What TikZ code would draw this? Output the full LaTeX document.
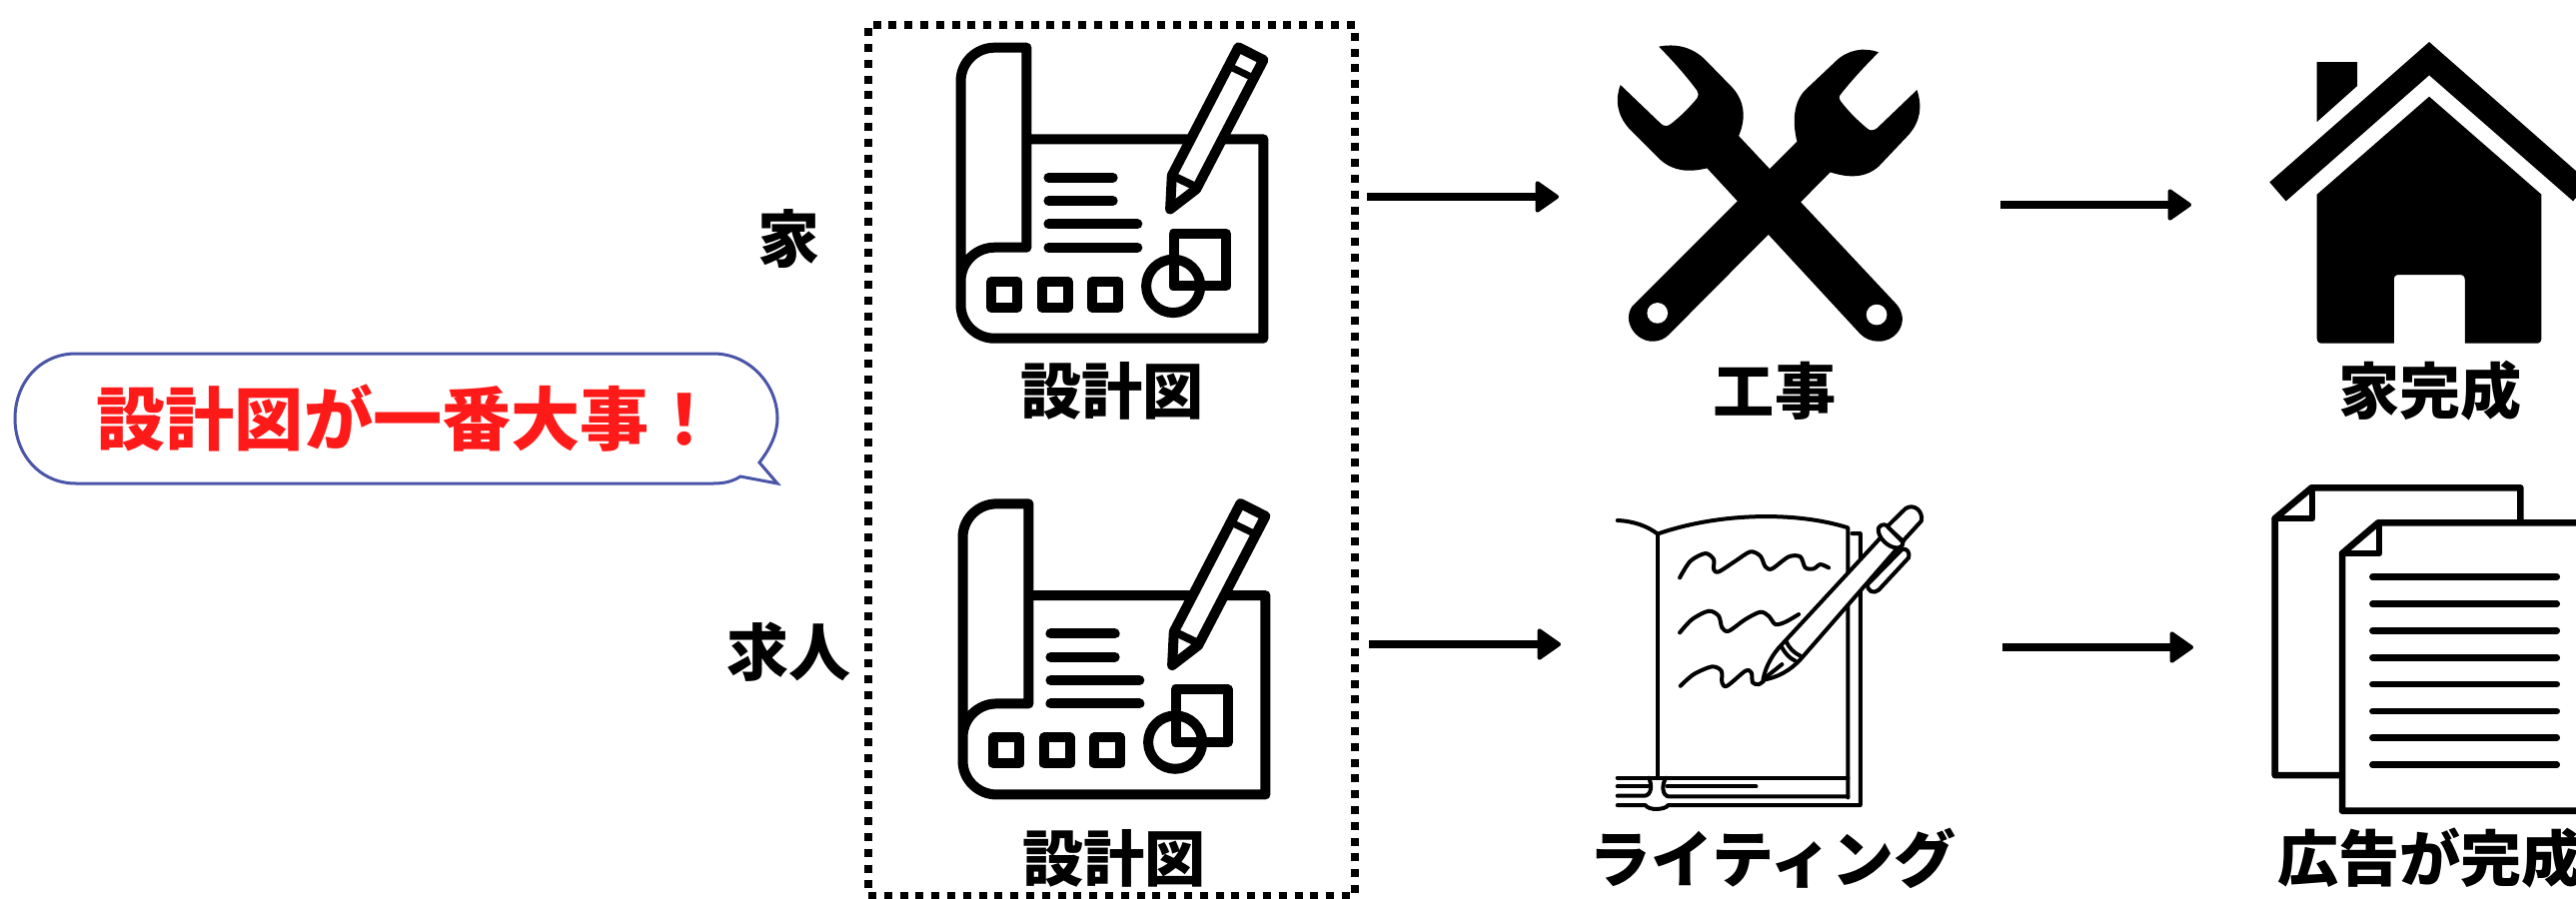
\documentclass[tikz,border=0pt]{standalone}
\usepackage{fontspec}
\newfontfamily\cjk{Noto Sans CJK JP}
\usetikzlibrary{arrows.meta}
\definecolor{bubbleblue}{HTML}{4A55A8}
\definecolor{bubblered}{HTML}{FF1A1A}
\tikzset{
  lab/.style={font=\cjk\bfseries\fontsize{30.6}{30.6}\selectfont,inner sep=0pt,text=black},
  side/.style={font=\cjk\bfseries\fontsize{31}{31}\selectfont,inner sep=0pt,text=black},
  flow/.style={line width=4pt,-{Triangle[length=12.5pt,width=17pt,line width=2pt,round,fill=black]}},
  ic/.style={line width=5pt,line join=round,line cap=round},
  thinic/.style={line width=2pt,line join=round,line cap=round},
  docic/.style={line width=3.3pt,line join=round,line cap=round},
}
\newcommand{\blueprinticon}[2]{%
\begin{scope}[shift={(#1,#2)},x=0.169pt,y=-0.1667pt,ic]
  \draw (525,418) -- (1226,418) -- (1226,1016) -- (430,1016)
    .. controls (375,1016) and (330,971) .. (330,916) -- (330,243)
    .. controls (330,188) and (375,143) .. (430,143) -- (525,143) -- (525,743) -- (430,743)
    .. controls (375,743) and (330,788) .. (330,843);
  \draw[fill=white] (950,628) -- (955,527) -- (1152,142) -- (1226,180) -- (1027,568) -- cycle;
  \draw[line width=4pt,line cap=butt] (962,530) -- (1030,563);
  \draw[line width=3.5pt,line cap=butt] (1133,203) -- (1200,236);
  \foreach \y/\e in {533/780,603/780,673/853,743/853}{\draw (590,\y) -- (\e,\y);}
  \foreach \x in {421,571,720}{\draw (\x,845) rectangle ++(76,78);}
  \draw (960,701) rectangle (1115,859);
  \draw (959,859) ellipse[x radius=80,y radius=80];
\end{scope}}
\begin{document}
\begin{tikzpicture}[x=0.5pt,y=-0.5pt]
\useasboundingbox (0,0) rectangle (2578,899);
% bubble
\draw[bubbleblue,line width=1.5pt,fill=white,line join=miter]
  (76,354) -- (714,354)
  .. controls (750,354) and (778,385) .. (778,419)
  .. controls (778,435) and (770,450) .. (760,463)
  -- (778,484) -- (741,477)
  .. controls (733,482) and (725,484) .. (714,484)
  -- (76,484)
  .. controls (40,484) and (15,455) .. (15,419)
  .. controls (15,383) and (40,354) .. (76,354) -- cycle;
\node[font=\cjk\bfseries\fontsize{34.6}{34.6}\selectfont,text=bubblered,inner sep=0pt,anchor=west] (slogan) at (96,419) {設計図が一番大事！};
% side labels
\node[side] (ie) at (789,239) {家};
\node[side] (kyujin) at (789,653) {求人};
% dotted frame
\node[draw,line width=4pt,dash pattern=on 4pt off 3.9pt,outer sep=0pt,minimum width=243.35pt,minimum height=436pt,inner sep=0pt,anchor=north west] (frame) at (869,25) {};
% blueprints
\blueprinticon{850}{0}
\blueprinticon{852}{456.7}
\node[lab] (dz1) at (1113,391) {設計図};
\node[lab] (dz2) at (1115,859) {設計図};
% wrenches
\begin{scope}[shift={(1550,0)},x=0.1667pt,y=-0.1667pt]
  \fill (330,140) .. controls (380,130) and (430,140) .. (470,180) -- (550,262)
    .. controls (585,300) and (595,350) .. (570,408) -- (1045,915)
    .. controls (1085,965) and (1045,1025) .. (990,1025)
    .. controls (970,1025) and (950,1018) .. (935,1003) -- (475,505)
    .. controls (420,518) and (375,515) .. (335,480) -- (240,385)
    .. controls (205,345) and (198,300) .. (215,255) -- (335,370)
    .. controls (345,380) and (355,380) .. (365,373) .. controls (395,350) and (420,325) .. (445,295)
    .. controls (450,288) and (450,280) .. (445,272) .. controls (410,225) and (370,180) .. (330,140) -- cycle;
  \fill (990,157) .. controls (945,140) and (895,150) .. (860,185) -- (770,270)
    .. controls (735,305) and (730,365) .. (745,425) -- (250,920)
    .. controls (220,965) and (260,1025) .. (312,1025)
    .. controls (330,1025) and (348,1018) .. (360,1005) -- (845,517)
    .. controls (900,535) and (950,535) .. (990,500) -- (1080,405)
    .. controls (1115,365) and (1122,320) .. (1105,270) -- (985,385)
    .. controls (975,393) and (962,393) .. (955,385) .. controls (925,360) and (900,335) .. (877,305)
    .. controls (870,295) and (870,290) .. (877,282) .. controls (910,240) and (950,197) .. (990,157) -- cycle;
  \fill[white] (326,940) circle[radius=31] (984,945) circle[radius=31];
\end{scope}
\node[lab] (koji) at (1776,391) {工事};
% house
\begin{scope}[shift={(2180,0)},x=0.1667pt,y=-0.1667pt]
  \fill (753,126) -- (274,547) -- (323,604) -- (753,226) -- (1185,604) -- (1232,547) -- cycle;
  \fill (416,186) -- (537,186) -- (537,258) -- (416,366) -- cycle;
  \fill (416,584) -- (753,290) -- (1090,584) -- (1090,1015) .. controls (1090,1025) and (1085,1031) .. (1075,1031)
    -- (860,1031) -- (860,840) .. controls (860,830) and (855,825) .. (845,825) -- (662,825)
    .. controls (652,825) and (647,830) .. (647,840) -- (647,1031) -- (431,1031)
    .. controls (421,1031) and (416,1025) .. (416,1015) -- cycle;
\end{scope}
\node[lab] (kansei) at (2432,391) {家完成};
% book and pen
\begin{scope}[shift={(1570,470)},x=0.1667pt,y=-0.1667pt,thinic]
  \draw (146,153) .. controls (195,155) and (235,170) .. (266,193);
  \draw (268,193) .. controls (450,130) and (680,125) .. (838,175) -- (838,985);
  \draw (266,193) -- (266,926);
  \draw (850,192) -- (875,192) -- (875,1008) -- (298,1008) .. controls (290,1022) and (240,1025) .. (230,1008) -- (146,1008);
  \draw (146,926) -- (838,926);
  \draw (146,952) -- (240,952);
  \draw (146,980) -- (225,980) .. controls (250,980) and (250,945) .. (240,926);
  \draw (292,926) .. controls (278,945) and (280,980) .. (300,982) -- (838,982);
  \draw (295,952) -- (562,952);
  \draw plot[smooth] coordinates {(333,325)(365,275)(410,252)(435,270)(435,300)(450,307)(500,275)(545,247)(575,260)(590,292)(610,298)(660,262)(695,262)(710,295)(735,298)(755,285)(780,295)};
  \draw plot[smooth] coordinates {(333,490)(370,450)(420,425)(450,440)(460,475)(480,485)(530,450)(575,428)(600,440)(620,465)(650,458)(690,435)};
  \draw plot[smooth] coordinates {(335,650)(375,615)(430,592)(458,605)(460,640)(475,650)(530,605)(548,610)(552,640)(570,645)(585,635)};
  \draw[fill=white] (583,632) .. controls (590,590) and (615,550) .. (640,525) -- (945,195) -- (1005,215) -- (700,565) .. controls (665,605) and (625,625) .. (583,632) -- cycle;
  \draw[fill=white] (1000,240) .. controls (1015,235) and (1025,250) .. (1020,265) -- (930,362) .. controls (915,375) and (895,365) .. (897,345) -- cycle;
  \draw[fill=white] (955,172) -- (1010,118) .. controls (1035,100) and (1065,125) .. (1058,155) -- (1003,215) -- cycle;
  \draw[fill=white] (930,175) .. controls (940,160) and (955,165) .. (960,175) -- (1000,215) .. controls (1010,235) and (985,240) .. (965,230) .. controls (945,220) and (925,195) .. (930,175) -- cycle;
  \draw (652,515) .. controls (660,535) and (675,550) .. (695,560);
  \draw (640,535) .. controls (650,552) and (660,565) .. (680,575);
  \draw (590,625) -- (640,585);
\end{scope}
\node[lab,font=\cjk\bfseries\fontsize{31}{31}\selectfont] (writing) at (1774,859) {ライティング};
% documents
\begin{scope}[shift={(2240,470)},x=0.1667pt,y=-0.1667pt,docic]
  \draw (310,918) -- (110,918) -- (110,147) -- (220,55) -- (847,55) -- (847,160);
  \draw (110,147) -- (222,147) -- (222,55);
  \draw[fill=white] (1120,160) -- (420,160) -- (312,252) -- (312,1025) -- (1120,1025);
  \draw (312,252) -- (423,252) -- (423,160);
  \foreach \y in {323,404,484,565,645,726,806,887}{\draw (403,\y) -- (956,\y);}
\end{scope}
\node[lab] (koukoku) at (2432,859) {広告が完成};
% connectors
\coordinate (a1) at (1368,197); \coordinate (b1) at (1560,197);
\coordinate (a2) at (2002,205); \coordinate (b2) at (2193,205);
\coordinate (a3) at (1370,645); \coordinate (b3) at (1562,645);
\coordinate (a4) at (2004,648); \coordinate (b4) at (2195,648);
\draw[flow] (a1) -- (b1);
\draw[flow] (a2) -- (b2);
\draw[flow] (a3) -- (b3);
\draw[flow] (a4) -- (b4);
\end{tikzpicture}
\end{document}
